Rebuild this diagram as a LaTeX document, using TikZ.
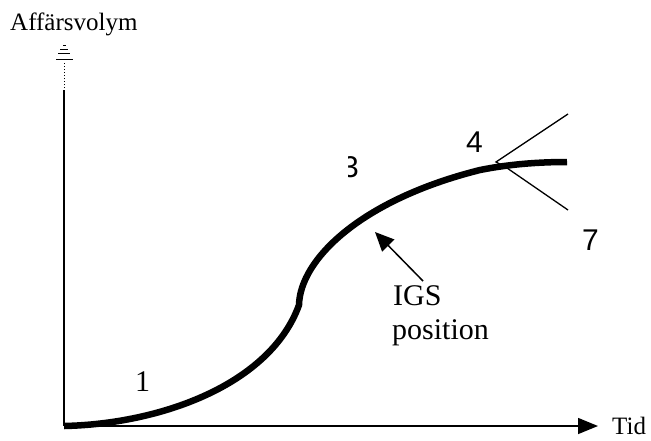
\documentclass[tikz,border=0pt]{standalone}
\usepackage{fontspec}
\setmainfont{Liberation Serif}
\newfontfamily\arialf{Liberation Sans}
\usetikzlibrary{arrows.meta}
\begin{document}
\begin{tikzpicture}[x=1pt,y=-1pt,
  lbl/.style={inner sep=0pt,anchor=base west,font=\fontsize{25}{30}\selectfont},
  big/.style={inner sep=0pt,anchor=base west,font=\fontsize{30}{34}\selectfont},
  digit/.style={inner sep=0pt,font=\arialf\fontsize{30}{34}\selectfont},
  axis/.style={line width=1.5pt},
  curve/.style={line width=6.5pt},
  thin/.style={line width=1.3pt}]
\useasboundingbox (0,0) rectangle (651,440);
% coordinates
\coordinate (O) at (64,426);
\coordinate (Ytop) at (64,90);
\coordinate (Ydot) at (64,62);
\coordinate (Xend) at (598,426);
\coordinate (C1) at (299,305);
\coordinate (C2) at (480,170);
\coordinate (C3) at (567,162);
\coordinate (B1) at (496,162);
\coordinate (B2) at (507,168);
\coordinate (U) at (568,114);
\coordinate (L) at (568,210);
\coordinate (Atail) at (423,281);
\coordinate (Atip) at (375,232);
% axes
\draw[axis] (O) -- (Ytop);
\draw[line width=1pt,dash pattern=on 1.5pt off 1.5pt] (64,88) -- (Ydot);
\draw[line width=1pt] (63,45) -- (66,45) (60,49) -- (68,49) (58,53) -- (70,53) (56,59) -- (73,59);
\draw[axis,-{Triangle[length=20pt,width=16pt]}] (O) -- (Xend);
% curve
\draw[curve] (O) .. controls (160,424) and (270,385) .. (C1)
  .. controls (300,260) and (360,200) .. (C2)
  .. controls (510,164) and (540,162) .. (C3);
% branching lines
\draw[thin] (U) -- (B1) -- (B2);
\draw[thin] (B2) -- (L);
% arrow
\draw[line width=1.5pt,-{Triangle[length=19pt,width=17pt]}] (Atail) -- (Atip);
% labels
\node[lbl] (ylab) at (10,30) {Affärsvolym};
\node[lbl] (xlab) at (612,434) {Tid};
\node[big] (igs) at (393,305) {IGS};
\node[big] (pos) at (392,339) {position};
\node[big] (one) at (135,391) {1};
\node[digit,anchor=base west] (four) at (466,152) {4};
\begin{scope}
\clip (348,140) rectangle (370,190);
\node[digit,anchor=base east] (three) at (359,177) {3};
\end{scope}
\node[digit,anchor=base east] (seven) at (599,250) {7};
\end{tikzpicture}
\end{document}
